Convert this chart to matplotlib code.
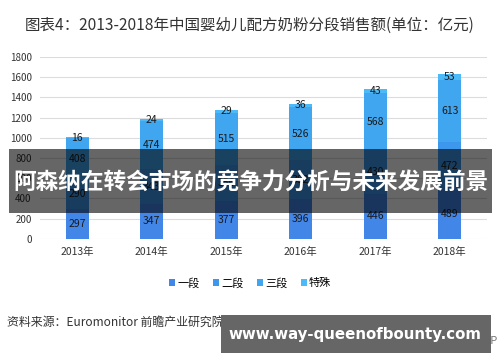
import matplotlib
matplotlib.use("Agg")
import matplotlib.pyplot as plt
import numpy as np

plt.rcParams['font.family'] = ['Noto Sans CJK SC', 'DejaVu Sans']

years = ["2013年", "2014年", "2015年", "2016年", "2017年", "2018年"]
seg1 = [297, 347, 377, 396, 446, 489]
seg2 = [290, 343, 356, 382, 430, 472]
seg3 = [408, 474, 515, 526, 568, 613]
special = [16, 24, 29, 36, 43, 53]
series_names = ["一段", "二段", "三段", "特殊"]
colors = ["#4286e8", "#3d97ec", "#40a6f0", "#4cb9f8"]
yticks = [0, 200, 400, 600, 800, 1000, 1200, 1400, 1600, 1800]

fig = plt.figure(figsize=(5, 3.62), dpi=100)
ax = fig.add_axes([0.08, 0.34, 0.894, 0.5025])

x = np.arange(len(years))
bottom = np.zeros(len(years))
handles = []
for vals, name, col in zip([seg1, seg2, seg3, special], series_names, colors):
    vals = np.array(vals)
    bars = ax.bar(x, vals, 0.31, bottom=bottom, color=col, label=name, zorder=2)
    handles.append(bars)
    for xi, b, v in zip(x, bottom, vals):
        ax.text(xi, b + v / 2, str(v), ha="center", va="center",
                fontsize=7.5, color="#1a1a1a", zorder=3)
    bottom = bottom + vals

ax.set_xlim(-0.5, len(years) - 0.5)
ax.set_ylim(0, 1800)
ax.set_yticks(yticks)
ax.set_yticklabels([str(t) for t in yticks], fontsize=7, color="#333333")
ax.set_xticks(x)
ax.set_xticklabels(years, fontsize=7.5, color="#333333")
ax.tick_params(length=0, pad=6)
ax.yaxis.grid(True, color="#dcdcdc", linewidth=0.8, zorder=0)
ax.set_axisbelow(True)
for s in ax.spines.values():
    s.set_visible(False)

fig.text(0.5, 0.93, "图表4：2013-2018年中国婴幼儿配方奶粉分段销售额(单位：亿元)",
         ha="center", va="center", fontsize=11.2, color="#333333")

fig.legend(handles, series_names, loc="center", bbox_to_anchor=(0.5, 0.218),
           ncol=4, frameon=False, fontsize=8, handlelength=0.55, handleheight=0.55,
           handletextpad=0.2, columnspacing=1.2)

fig.text(0.014, 0.11, "资料来源：Euromonitor 前瞻产业研究院整理",
         ha="left", va="center", fontsize=8.6, color="#333333")
fig.text(0.995, 0.06, "© 前瞻经济学人APP", ha="right", va="center",
         fontsize=8, color="#777777")

# overlay banners
fig.patches.append(plt.Rectangle((0.018, 1 - 213 / 362), 0.966, 64 / 362,
                                 transform=fig.transFigure, facecolor="black",
                                 linewidth=0, alpha=0.6, zorder=10))
fig.text(0.502, 1 - 182 / 362, "阿森纳在转会市场的竞争力分析与未来发展前景",
         ha="center", va="center", fontsize=16.3, color="white",
         fontweight="bold", zorder=11)
fig.patches.append(plt.Rectangle((221 / 500, 1 - 353 / 362), 270 / 500, 38 / 362,
                                 transform=fig.transFigure, facecolor="#666666",
                                 linewidth=0, zorder=10))
fig.text(355 / 500, 1 - 334 / 362, "www.way-queenofbounty.com",
         ha="center", va="center", fontsize=10.8, color="white",
         fontweight="bold", family="DejaVu Sans", zorder=11)

fig.savefig("out.png", dpi=100)
